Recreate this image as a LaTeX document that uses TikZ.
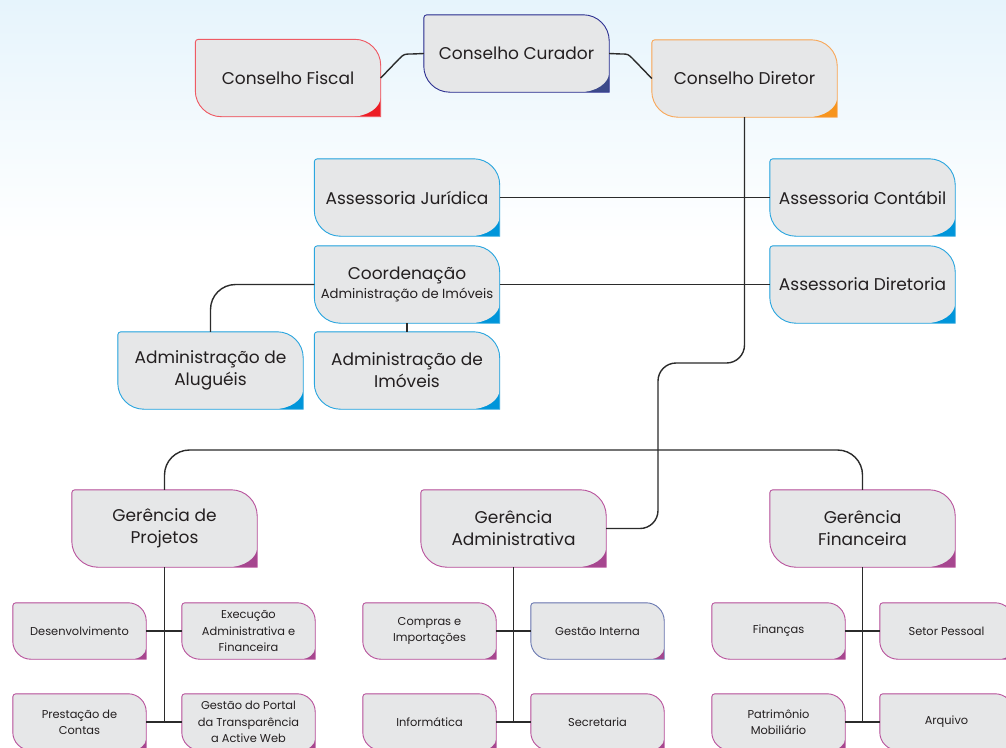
\documentclass[tikz,border=0pt]{standalone}
\usepackage{fontspec}
\setmainfont{Poppins}
\usetikzlibrary{calc}
\pgfdeclarelayer{bg}\pgfdeclarelayer{shp}\pgfsetlayers{bg,shp,main}
\definecolor{boxgray}{HTML}{E6E7E8}
\definecolor{txt}{HTML}{231F20}
\definecolor{redC}{HTML}{ED1C24}\definecolor{redB}{HTML}{EF5A64}
\definecolor{navyC}{HTML}{3C4A8A}\definecolor{navyB}{HTML}{2E3192}
\definecolor{orgC}{HTML}{F7941D}\definecolor{orgB}{HTML}{F9A85A}
\definecolor{bluC}{HTML}{0095DA}\definecolor{bluB}{HTML}{2BA6DF}
\definecolor{magC}{HTML}{A6468F}\definecolor{magB}{HTML}{B9559E}
\definecolor{slateB}{HTML}{6A7BB3}
\definecolor{bgtop}{HTML}{E6F4FC}
\definecolor{linec}{HTML}{2B2B2B}
% #1 node, #2 border colour, #3 corner colour, #4 big radius, #5 wedge width, #6 wedge height
\newcommand\boxshape[6]{%
\begin{pgfonlayer}{shp}
\fill[#3] let \p1=(#1.north west), \p2=(#1.south east) in
 (\x1,\y1-3pt) arc[start angle=180,end angle=90,radius=3pt] -- (\x2-#4pt,\y1)
 arc[start angle=90,end angle=0,radius=#4pt] -- (\x2,\y2) -- (\x1+#4pt,\y2)
 arc[start angle=270,end angle=180,radius=#4pt] -- cycle;
\fill[boxgray] let \p1=(#1.north west), \p2=(#1.south east) in
 (\x1,\y1-3pt) arc[start angle=180,end angle=90,radius=3pt] -- (\x2-#4pt,\y1)
 arc[start angle=90,end angle=0,radius=#4pt] -- (\x2,\y2+#6pt)
 arc[start angle=0,end angle=-90,x radius=#5pt,y radius=#6pt] -- (\x1+#4pt,\y2)
 arc[start angle=270,end angle=180,radius=#4pt] -- cycle;
\draw[#2,line width=0.9pt] let \p1=(#1.north west), \p2=(#1.south east) in
 (\x1,\y1-3pt) arc[start angle=180,end angle=90,radius=3pt] -- (\x2-#4pt,\y1)
 arc[start angle=90,end angle=0,radius=#4pt] -- (\x2,\y2) -- (\x1+#4pt,\y2)
 arc[start angle=270,end angle=180,radius=#4pt] -- cycle;
\end{pgfonlayer}}
\newcommand\bigshape[3]{\boxshape{#1}{#2}{#3}{26}{30}{20}}
\newcommand\smallshape[3]{\boxshape{#1}{#2}{#3}{18}{15}{12}}
\tikzset{
 bx/.style={inner sep=0pt,align=center,text=txt},
 bigbox/.style={bx,minimum width=185pt,minimum height=77pt,font=\fontsize{17}{22}\selectfont},
 smallbox/.style={bx,minimum width=133pt,minimum height=56pt,font=\fontsize{11.4}{16.3}\selectfont},
 conn/.style={draw=linec,line width=1.4pt},
}
\begin{document}
\begin{tikzpicture}[x=1pt,y=-1pt]
\useasboundingbox (0,0) rectangle (1006,747);
\clip (0,0) rectangle (1006,747);
\begin{pgfonlayer}{bg}
\fill[white] (0,0) rectangle (1006,747);
\shade[top color=bgtop,bottom color=white] (0,0) rectangle (1006,240);
\end{pgfonlayer}
% top level
\node[bigbox] (fiscal) at (288,78) {Conselho Fiscal};
\node[bigbox] (curador) at (516.5,53.5) {Conselho Curador};
\node[bigbox] (diretor) at (744.5,78.5) {Conselho Diretor};
\node[bigbox] (juridica) at (407,197.5) {Assessoria Jurídica};
\node[bigbox] (contabil) at (862.5,197.5) {Assessoria Contábil};
\node[bigbox] (coord) at (407,284.5) {Coordenação\\[-3pt]{\fontsize{13.2}{15}\selectfont Administração de Imóveis}};
\node[bigbox] (diretoria) at (862.5,284.5) {Assessoria Diretoria};
\node[bigbox] (aluguel) at (210.5,370.5) {Administração de\\Aluguéis};
\node[bigbox] (imoveis) at (407,370.5) {Administração de\\Imóveis};
\node[bigbox] (projetos) at (164.5,528.5) {Gerência de\\Projetos};
\node[bigbox] (admin) at (513.5,528.5) {Gerência\\Administrativa};
\node[bigbox] (financeira) at (862.5,528.5) {Gerência\\Financeira};
% small boxes
\node[smallbox] (desenv) at (79.5,631) {Desenvolvimento};
\node[smallbox] (exec) at (248.5,631) {Execução\\Administrativa e\\Financeira};
\node[smallbox] (prest) at (79.5,722) {Prestação de\\Contas};
\node[smallbox] (portal) at (248.5,722) {Gestão do Portal\\da Transparência\\a Active Web};
\node[smallbox] (compras) at (429.5,631) {Compras e\\Importações};
\node[smallbox] (gestao) at (597.5,631) {Gestão Interna};
\node[smallbox] (info) at (429.5,722) {Informática};
\node[smallbox] (secret) at (597.5,722) {Secretaria};
\node[smallbox] (financas) at (778.5,631) {Finanças};
\node[smallbox] (setor) at (946.5,631) {Setor Pessoal};
\node[smallbox] (patrim) at (778.5,722) {Patrimônio\\Mobiliário};
\node[smallbox] (arquivo) at (946.5,722) {Arquivo};
% shapes
\bigshape{fiscal}{redB}{redC}
\bigshape{curador}{navyB}{navyC}
\bigshape{diretor}{orgB}{orgC}
\bigshape{juridica}{bluB}{bluC}
\bigshape{contabil}{bluB}{bluC}
\bigshape{coord}{bluB}{bluC}
\bigshape{diretoria}{bluB}{bluC}
\bigshape{aluguel}{bluB}{bluC}
\bigshape{imoveis}{bluB}{bluC}
\bigshape{projetos}{magB}{magC}
\bigshape{admin}{magB}{magC}
\bigshape{financeira}{magB}{magC}
\smallshape{desenv}{magB}{magC}
\smallshape{exec}{magB}{magC}
\smallshape{prest}{magB}{magC}
\smallshape{portal}{magB}{magC}
\smallshape{compras}{magB}{magC}
\smallshape{gestao}{slateB}{magC}
\smallshape{info}{magB}{magC}
\smallshape{secret}{magB}{magC}
\smallshape{financas}{magB}{magC}
\smallshape{setor}{magB}{magC}
\smallshape{patrim}{magB}{magC}
\smallshape{arquivo}{magB}{magC}
% connectors
\coordinate (c1) at (399,59);
\coordinate (c2) at (412,54);
\draw[conn] (fiscal.east) -- (c1) .. controls (404,54) .. (c2) -- (curador.west);
\coordinate (c3) at (621,54);
\coordinate (c4) at (633,59);
\draw[conn] (curador.east) -- (c3) .. controls (628,54) .. (c4) -- (diretor.west);
\coordinate (turn1) at (658,363);
\draw[conn,rounded corners=18pt] (diretor.south) |- (turn1) |- (admin.east);
\draw[conn] (juridica.east) -- (contabil.west);
\draw[conn] (coord.east) -- (diretoria.west);
\draw[conn,rounded corners=25pt] (coord.west) -| (aluguel.north);
\draw[conn] (coord.south) -- (imoveis.north);
\coordinate (bar) at (862.5,450);
\draw[conn,rounded corners=25pt] (projetos.north) |- (bar) -- (financeira.north);
% sub trees
\coordinate (pj) at (164.5,722);
\coordinate (ad) at (513.5,722);
\coordinate (fi) at (862.5,722);
\draw[conn] (projetos.south) -- (pj);
\draw[conn] (admin.south) -- (ad);
\draw[conn] (financeira.south) -- (fi);
\draw[conn] (desenv.east) -- (exec.west);
\draw[conn] (prest.east) -- (portal.west);
\draw[conn] (compras.east) -- (gestao.west);
\draw[conn] (info.east) -- (secret.west);
\draw[conn] (financas.east) -- (setor.west);
\draw[conn] (patrim.east) -- (arquivo.west);
\end{tikzpicture}
\end{document}
